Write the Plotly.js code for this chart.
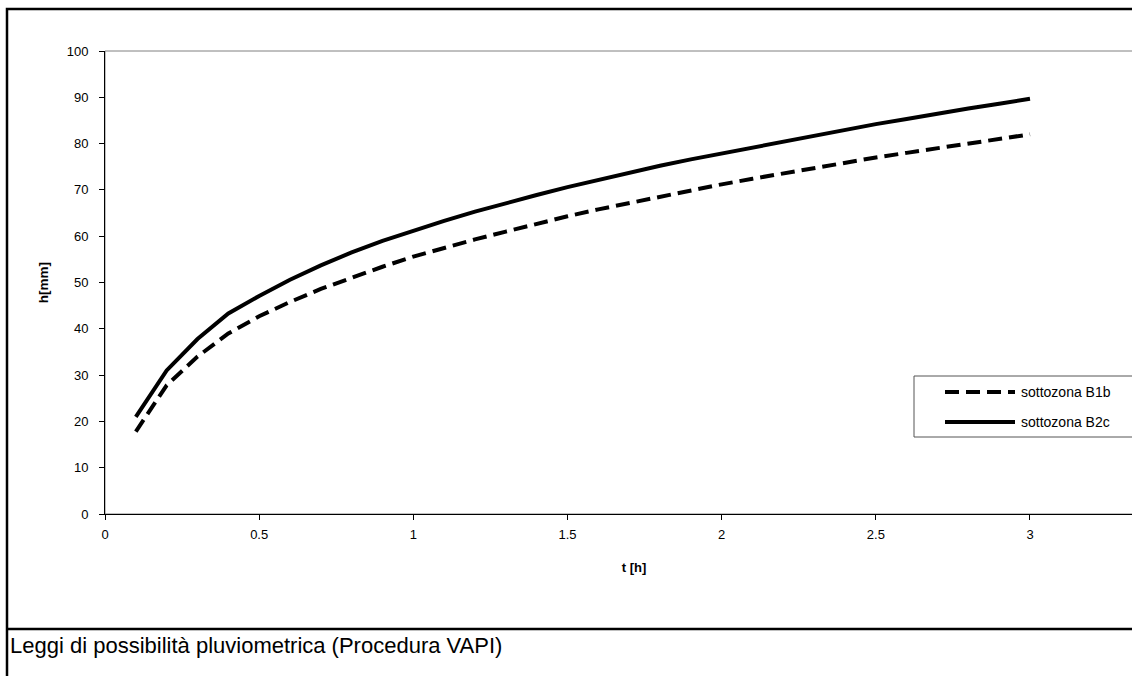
<!DOCTYPE html>
<html>
<head>
<meta charset="utf-8">
<script src="https://cdn.plot.ly/plotly-3.0.1.min.js"></script>
<style>
  html, body { margin: 0; padding: 0; background: #fff; overflow: hidden; }
  #chart { width: 1170px; height: 676px; }
</style>
</head>
<body>
<div id="chart"></div>
<script>
// Durata di pioggia t [h]
const durations = [0.1, 0.2, 0.3, 0.4, 0.5, 0.6, 0.7, 0.8, 0.9, 1.0,
                   1.1, 1.2, 1.3, 1.4, 1.5, 1.6, 1.7, 1.8, 1.9, 2.0,
                   2.1, 2.2, 2.3, 2.4, 2.5, 2.6, 2.7, 2.8, 2.9, 3.0];

// Altezza di pioggia h [mm] – sottozona B1b
const hB1b = [17.8, 27.8, 34.0, 39.0, 42.7, 45.8, 48.6, 51.1, 53.4, 55.6,
              57.5, 59.3, 61.0, 62.7, 64.3, 65.8, 67.2, 68.6, 69.9, 71.2,
              72.4, 73.6, 74.8, 75.9, 77.0, 78.0, 79.0, 80.1, 81.1, 82.0];

// Altezza di pioggia h [mm] – sottozona B2c
const hB2c = [21.0, 31.0, 37.8, 43.3, 47.1, 50.6, 53.7, 56.5, 59.0, 61.2,
              63.3, 65.3, 67.2, 68.9, 70.6, 72.2, 73.7, 75.2, 76.6, 77.9,
              79.2, 80.5, 81.8, 83.0, 84.2, 85.3, 86.5, 87.6, 88.6, 89.7];

const seriesNames = ['sottozona B1b', 'sottozona B2c'];
const yTicks = [0, 10, 20, 30, 40, 50, 60, 70, 80, 90, 100];
const xTicks = [0, 0.5, 1, 1.5, 2, 2.5, 3];
const xTickLabels = ['0', '0.5', '1', '1.5', '2', '2.5', '3'];
const captionText = 'Leggi di possibilità pluviometrica (Procedura VAPI)';

const FONT = 'Arial, "Liberation Sans", sans-serif';
const DASH = '14px,7px';

// plot-area geometry (pixels)
const W = 1170, H = 676;
const ML = 105, MT = 51, PR = 1163, PB = 514;
const PW = PR - ML, PH = PB - MT;
const px = x => (x - ML) / PW;      // pixel x -> paper
const py = y => (PB - y) / PH;      // pixel y -> paper

const traces = [
  {
    x: durations, y: hB1b, name: seriesNames[0], type: 'scatter', mode: 'lines',
    line: { color: '#000', width: 4, dash: DASH }, showlegend: false
  },
  {
    x: durations, y: hB2c, name: seriesNames[1], type: 'scatter', mode: 'lines',
    line: { color: '#000', width: 4 }, showlegend: false
  }
];

// legend box drawn as shapes + annotations
const legTop = 376, legBot = 437, legLeft = 914;
const rowY = [392, 422];

const shapes = [
  // plot area frame (grey)
  { type: 'rect', xref: 'paper', yref: 'paper', x0: 0, x1: 1, y0: 0, y1: 1,
    line: { color: '#808080', width: 1 }, layer: 'below' },
  // outer chart border
  { type: 'rect', xref: 'paper', yref: 'paper', x0: px(7), x1: px(1200), y0: py(9), y1: py(720),
    line: { color: '#000', width: 2.5 } },
  // caption separator
  { type: 'line', xref: 'paper', yref: 'paper', x0: px(7), x1: px(1200), y0: py(629), y1: py(629),
    line: { color: '#000', width: 2.5 } },
  // legend frame
  { type: 'rect', xref: 'paper', yref: 'paper', x0: px(legLeft), x1: px(1200), y0: py(legBot), y1: py(legTop),
    line: { color: '#555', width: 1 }, fillcolor: '#fff' },
  // legend samples
  { type: 'line', xref: 'paper', yref: 'paper', x0: px(945), x1: px(1015), y0: py(rowY[0]), y1: py(rowY[0]),
    line: { color: '#000', width: 4, dash: DASH } },
  { type: 'line', xref: 'paper', yref: 'paper', x0: px(945), x1: px(1015), y0: py(rowY[1]), y1: py(rowY[1]),
    line: { color: '#000', width: 4 } }
];

const annotations = [
  { xref: 'paper', yref: 'paper', x: px(1019), y: py(rowY[0]), xanchor: 'left', yanchor: 'middle',
    text: seriesNames[0], showarrow: false, font: { family: FONT, size: 14, color: '#000' } },
  { xref: 'paper', yref: 'paper', x: px(1019), y: py(rowY[1]), xanchor: 'left', yanchor: 'middle',
    text: seriesNames[1], showarrow: false, font: { family: FONT, size: 14, color: '#000' } },
  { xref: 'paper', yref: 'paper', x: px(8), y: py(645), xanchor: 'left', yanchor: 'middle',
    text: captionText, showarrow: false, font: { family: FONT, size: 22, color: '#000' } }
];

const layout = {
  width: W, height: H,
  margin: { l: ML, r: W - PR, t: MT, b: H - PB, pad: 0 },
  paper_bgcolor: '#fff', plot_bgcolor: '#fff',
  font: { family: FONT, size: 13, color: '#000' },
  showlegend: false,
  xaxis: {
    range: [0, (PR - ML) / 308.33],
    tickmode: 'array', tickvals: xTicks, ticktext: xTickLabels,
    showgrid: false, zeroline: false,
    showline: true, linecolor: '#000', linewidth: 1,
    ticks: 'outside', ticklen: 5, tickcolor: '#000', tickwidth: 1,
    ticklabelstandoff: 3,
    tickfont: { family: FONT, size: 13, color: '#000' },
    title: { text: '<b>t [h]</b>', font: { family: FONT, size: 13, color: '#000' }, standoff: 22 }
  },
  yaxis: {
    range: [0, 100],
    tickmode: 'array', tickvals: yTicks,
    showgrid: false, zeroline: false,
    showline: true, linecolor: '#000', linewidth: 1,
    ticks: 'outside', ticklen: 5, tickcolor: '#000', tickwidth: 1,
    ticklabelstandoff: 8,
    tickfont: { family: FONT, size: 13, color: '#000' },
    title: { text: '<b>h[mm]</b>', font: { family: FONT, size: 13.5, color: '#000' }, standoff: 14 }
  },
  shapes: shapes,
  annotations: annotations
};

Plotly.newPlot('chart', traces, layout, { staticPlot: true, displayModeBar: false });
</script>
</body>
</html>
